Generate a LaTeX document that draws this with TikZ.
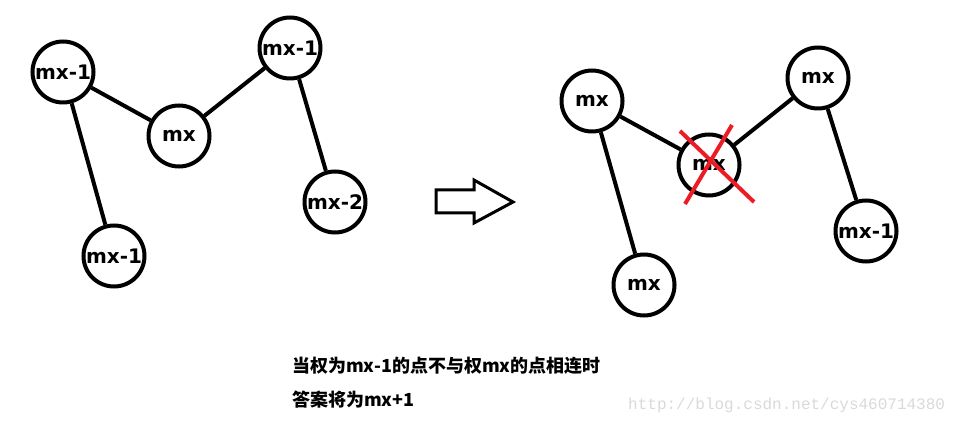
\documentclass[tikz,border=0pt]{standalone}
\usepackage{fontspec}
\usepackage{tikz}
\usetikzlibrary{calc}
\setmainfont{DejaVu Sans}
\newfontfamily\cjk{Noto Sans CJK SC}
\newfontfamily\wmfont{Liberation Mono}
\definecolor{crossred}{RGB}{237,28,36}

\begin{document}
\begin{tikzpicture}[x=1pt,y=-1pt,
  vertex/.style={draw, circle, line width=4pt, minimum size=61pt, inner sep=0pt, font=\bfseries\fontsize{20}{20}\selectfont},
  edge/.style={line width=4pt}]
\useasboundingbox (0,0) rectangle (968,427);
\node [vertex] (a) at (63,72) {mx-1};
\node [vertex] (b) at (179,136) {mx};
\node [vertex] (c) at (290,48) {mx-1};
\node [vertex] (d) at (335,202) {mx-2};
\node [vertex] (e) at (114,256) {mx-1};
\draw [edge] (a) -- (b);
\draw [edge] (b) -- (c);
\draw [edge] (a) -- (e);
\draw [edge] (c) -- (d);
\draw [line width=3pt] (436,190) -- (474,190) -- (474,180) -- (513,202) -- (474,223) -- (474,213) -- (436,213) -- cycle;
\node [vertex] (f) at (592,101) {mx};
\node [vertex] (g) at (709,165) {mx};
\node [vertex] (h) at (818,78) {mx};
\node [vertex] (i) at (866,231) {mx-1};
\node [vertex] (j) at (644,285) {mx};
\draw [edge] (f) -- (g);
\draw [edge] (g) -- (h);
\draw [edge] (f) -- (j);
\draw [edge] (h) -- (i);
\draw [crossred, line width=4pt] ($(g)+(-29,-34)$) -- ($(g)+(45,37)$);
\draw [crossred, line width=4pt] ($(g)+(23,-40)$) -- ($(g)+(-24,39)$);
\node [anchor=west, inner sep=0pt, font=\cjk\bfseries\fontsize{18}{18}\selectfont] (t1) at (292,366) {当权为mx-1的点不与权mx的点相连时};
\node [anchor=west, inner sep=0pt, font=\cjk\bfseries\fontsize{18}{18}\selectfont] (t2) at (292,400) {答案将为mx+1};
\node [anchor=west, inner sep=0pt, text=black!15, font=\wmfont\fontsize{16}{16}\selectfont] (wm) at (628,405) {http://blog.csdn.net/cys460714380};
\end{tikzpicture}
\end{document}
